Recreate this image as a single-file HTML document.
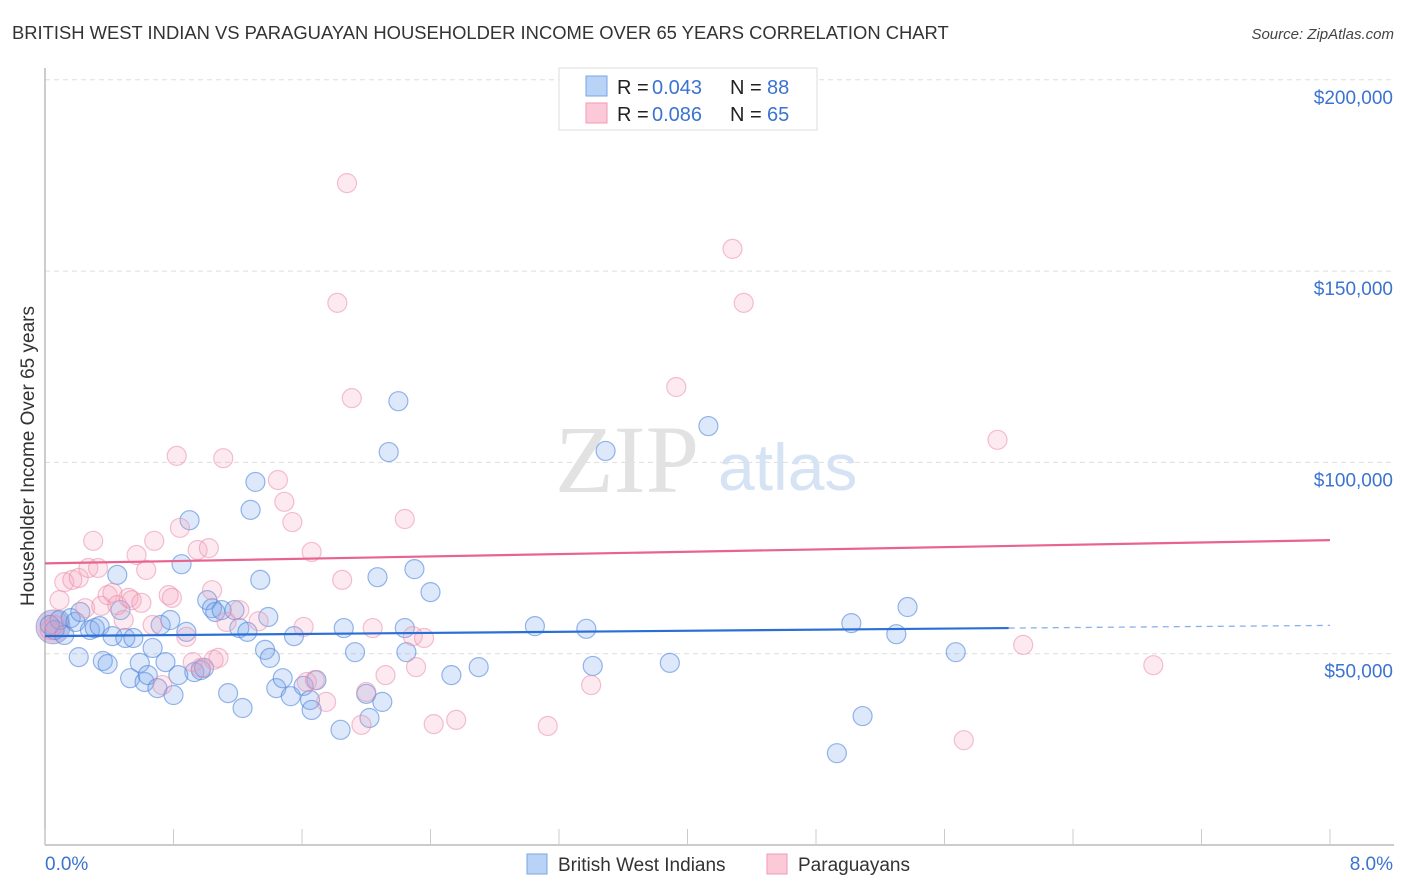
<!DOCTYPE html>
<html><head><meta charset="utf-8"><style>
body{margin:0;background:#fff;font-family:"Liberation Sans",sans-serif;}
#wrap{position:relative;width:1406px;height:892px;overflow:hidden;}
</style></head><body>
<div id="wrap">
<svg id="chart" width="1406" height="892"></svg>
</div>
<script>
const xTicksPct = [0,0.8,1.6,2.4,3.2,4.0,4.8,5.6,6.4,7.2,8.0];
const yTickVals = [50000,100000,150000,200000];
const yTickLabels = ["$50,000","$100,000","$150,000","$200,000"];
const blueX = [0.03,0.06,0.09,0.12,0.16,0.19,0.22,0.28,0.31,0.34,0.21,0.36,0.39,0.42,0.45,0.47,0.50,0.53,0.55,0.59,0.62,0.64,0.67,0.70,0.72,0.75,0.78,0.80,0.83,0.85,0.88,0.90,0.93,0.97,0.99,1.01,1.04,1.06,1.10,1.14,1.18,1.23,1.21,1.26,1.28,1.31,1.34,1.37,1.39,1.40,1.44,1.48,1.53,1.55,1.61,1.65,1.66,1.69,1.84,1.86,1.93,2.00,2.02,2.07,2.10,2.14,2.20,2.24,2.25,2.30,2.40,2.53,2.70,3.05,3.37,3.41,3.49,3.89,4.13,4.93,5.02,5.09,5.30,5.37,5.67];
const blueY = [57.5,56.2,58.8,54.9,59.3,58.3,60.9,56.2,56.7,57.2,49.1,48.1,47.3,54.6,70.6,61.4,54.1,43.6,54.1,47.6,42.6,44.4,51.5,41.0,57.5,47.8,58.8,39.2,44.4,73.4,55.7,84.9,45.2,45.7,46.3,64.0,61.9,60.9,61.4,39.7,61.4,35.8,56.7,55.7,87.6,94.9,69.3,51.0,59.6,48.9,41.0,43.6,38.9,54.6,41.6,37.9,35.3,43.1,30.1,56.7,50.4,39.5,33.2,70.0,37.4,102.7,116.0,56.7,50.4,72.1,66.1,44.4,46.5,57.2,56.5,46.8,103.0,47.6,109.5,24.0,58.0,33.7,55.1,62.2,50.4];
const pinkX = [0.03,0.06,0.09,0.12,0.17,0.21,0.25,0.27,0.30,0.33,0.35,0.39,0.42,0.45,0.49,0.52,0.54,0.57,0.60,0.63,0.67,0.68,0.73,0.77,0.79,0.82,0.84,0.88,0.92,0.95,0.97,1.02,1.04,1.05,1.08,1.11,1.13,1.21,1.33,1.45,1.49,1.54,1.61,1.66,1.63,1.68,1.75,1.82,1.85,1.88,1.91,1.97,2.00,2.04,2.12,2.24,2.29,2.31,2.36,2.42,2.56,3.13,3.40,3.93,4.28,4.35,5.72,5.93,6.09,6.90];
const pinkY = [56.2,57.5,64.0,68.7,69.3,69.8,61.9,72.4,79.5,72.4,62.5,65.3,65.9,62.7,58.8,64.6,64.0,75.8,63.3,71.9,57.5,79.5,41.8,65.3,64.6,101.7,82.9,54.4,47.8,77.1,46.3,77.6,66.6,48.4,48.9,101.1,58.3,61.4,58.5,95.4,89.7,84.4,57.0,76.6,42.6,43.1,37.4,141.7,69.3,173.0,116.8,31.4,40.0,56.7,44.4,85.2,54.6,46.5,54.1,31.6,32.7,31.1,41.8,119.7,155.8,141.7,27.4,105.9,52.3,47.0];
const blueTrend = [54.6, 0.35];
const pinkTrend = [73.6, 0.76];

const NS="http://www.w3.org/2000/svg";
const svg=document.getElementById('chart');
const X0=45,X1=1330,YB=845;
function xs(p){return X0+(p/8)*(X1-X0);}
function ys(v){return YB-v/50000*191.3;}
function mk(tag,attrs,parent){const e=document.createElementNS(NS,tag);for(const k in attrs)e.setAttribute(k,attrs[k]);(parent||svg).appendChild(e);return e;}

let t=mk('text',{x:12,y:39,'font-size':18.4,fill:'#333'});t.textContent="BRITISH WEST INDIAN VS PARAGUAYAN HOUSEHOLDER INCOME OVER 65 YEARS CORRELATION CHART";


t=mk('text',{x:1394,y:39,'font-size':15,fill:'#444','font-style':'italic','text-anchor':'end'});t.textContent="Source: ZipAtlas.com";



yTickVals.forEach((v,i)=>{
  const g=mk('line',{x1:X0,x2:1394,y1:ys(v),y2:ys(v),stroke:'#ddd','stroke-dasharray':'5,4'});
  
  
  const l=mk('text',{x:1393,y:ys(v)+24,'font-size':19,fill:'#3b73d0','text-anchor':'end'});l.textContent=yTickLabels[i];
  
  
});
let ax=mk('line',{x1:X0,x2:X0,y1:68,y2:YB,stroke:'#bbb','stroke-width':1.5});


ax=mk('line',{x1:X0,x2:1394,y1:YB,y2:YB,stroke:'#bbb','stroke-width':1.5});


xTicksPct.forEach(p=>{const k=mk('line',{x1:xs(p),x2:xs(p),y1:829,y2:YB,stroke:'#ccc'});
  
  });
t=mk('text',{x:45,y:870,'font-size':19,fill:'#3b73d0'});t.textContent=xTicksPct[0].toFixed(1)+"%";


t=mk('text',{x:1393,y:870,'font-size':19,fill:'#3b73d0','text-anchor':'end'});t.textContent=xTicksPct[xTicksPct.length-1].toFixed(1)+"%";


t=mk('text',{x:34,y:456,'font-size':19,fill:'#333','text-anchor':'middle',transform:'rotate(-90 34 456)'});t.textContent="Householder Income Over 65 years";



t=mk('text',{x:555,y:492,'font-size':96,fill:'#e2e2e2','font-family':'Liberation Serif, serif'});t.textContent="ZIP";


t=mk('text',{x:718,y:490,'font-size':66,fill:'#d6e3f5'});t.textContent="atlas";



let big=mk('circle',{cx:xs(0.05),cy:ys(57000),r:17,fill:'rgba(150,120,185,0.4)',stroke:'rgba(130,120,190,0.5)'});



blueX.forEach((x,i)=>{const c=mk('circle',{cx:xs(x),cy:ys(blueY[i]*1000),r:9.5,fill:'rgba(120,165,235,0.25)',stroke:'rgba(80,135,220,0.6)','stroke-width':1.2});
  
  });
pinkX.forEach((x,i)=>{const c=mk('circle',{cx:xs(x),cy:ys(pinkY[i]*1000),r:9.5,fill:'rgba(245,160,185,0.22)',stroke:'rgba(235,140,170,0.55)','stroke-width':1.2});
  
  });

function ty(tr,p){return ys((tr[0]+tr[1]*p)*1000);}
let l1=mk('line',{x1:xs(0),y1:ty(blueTrend,0),x2:xs(6.0),y2:ty(blueTrend,6.0),stroke:'#2a6fd6','stroke-width':2.2});


let l2=mk('line',{x1:xs(6.0),y1:ty(blueTrend,6.0),x2:xs(8),y2:ty(blueTrend,8),stroke:'#8ab0e8','stroke-width':1.3,'stroke-dasharray':'6,5'});


let l3=mk('line',{x1:xs(0),y1:ty(pinkTrend,0),x2:xs(8),y2:ty(pinkTrend,8),stroke:'#e8648f','stroke-width':2.2});



let lg=mk('g',{});


mk('rect',{x:559,y:68,width:258,height:62,fill:'#fff',stroke:'#ddd'},lg);
mk('rect',{x:586,y:76,width:21,height:20,fill:'#b8d3f5',stroke:'#7aa6e6'},lg);
mk('rect',{x:586,y:103,width:21,height:20,fill:'#fbc9d8',stroke:'#f09ab5'},lg);
[[0,'0.043','88'],[1,'0.086','65']].forEach(([i,r,n])=>{
  const y=94+i*27;
  let a=mk('text',{x:617,y:y,'font-size':20,fill:'#222'},lg);a.textContent="R = ";
  let b=mk('text',{x:652,y:y,'font-size':20,fill:'#3b73d0'},lg);b.textContent=r;
  let c=mk('text',{x:730,y:y,'font-size':20,fill:'#222'},lg);c.textContent="N = ";
  let d=mk('text',{x:767,y:y,'font-size':20,fill:'#3b73d0'},lg);d.textContent=n;
});

let b1=mk('rect',{x:527,y:854,width:20,height:20,fill:'#b8d3f5',stroke:'#7aa6e6'});


t=mk('text',{x:558,y:871,'font-size':19,fill:'#333'});t.textContent="British West Indians";


let b2=mk('rect',{x:767,y:854,width:20,height:20,fill:'#fbc9d8',stroke:'#f09ab5'});


t=mk('text',{x:798,y:871,'font-size':19,fill:'#333'});t.textContent="Paraguayans";


</script>
</body></html>
